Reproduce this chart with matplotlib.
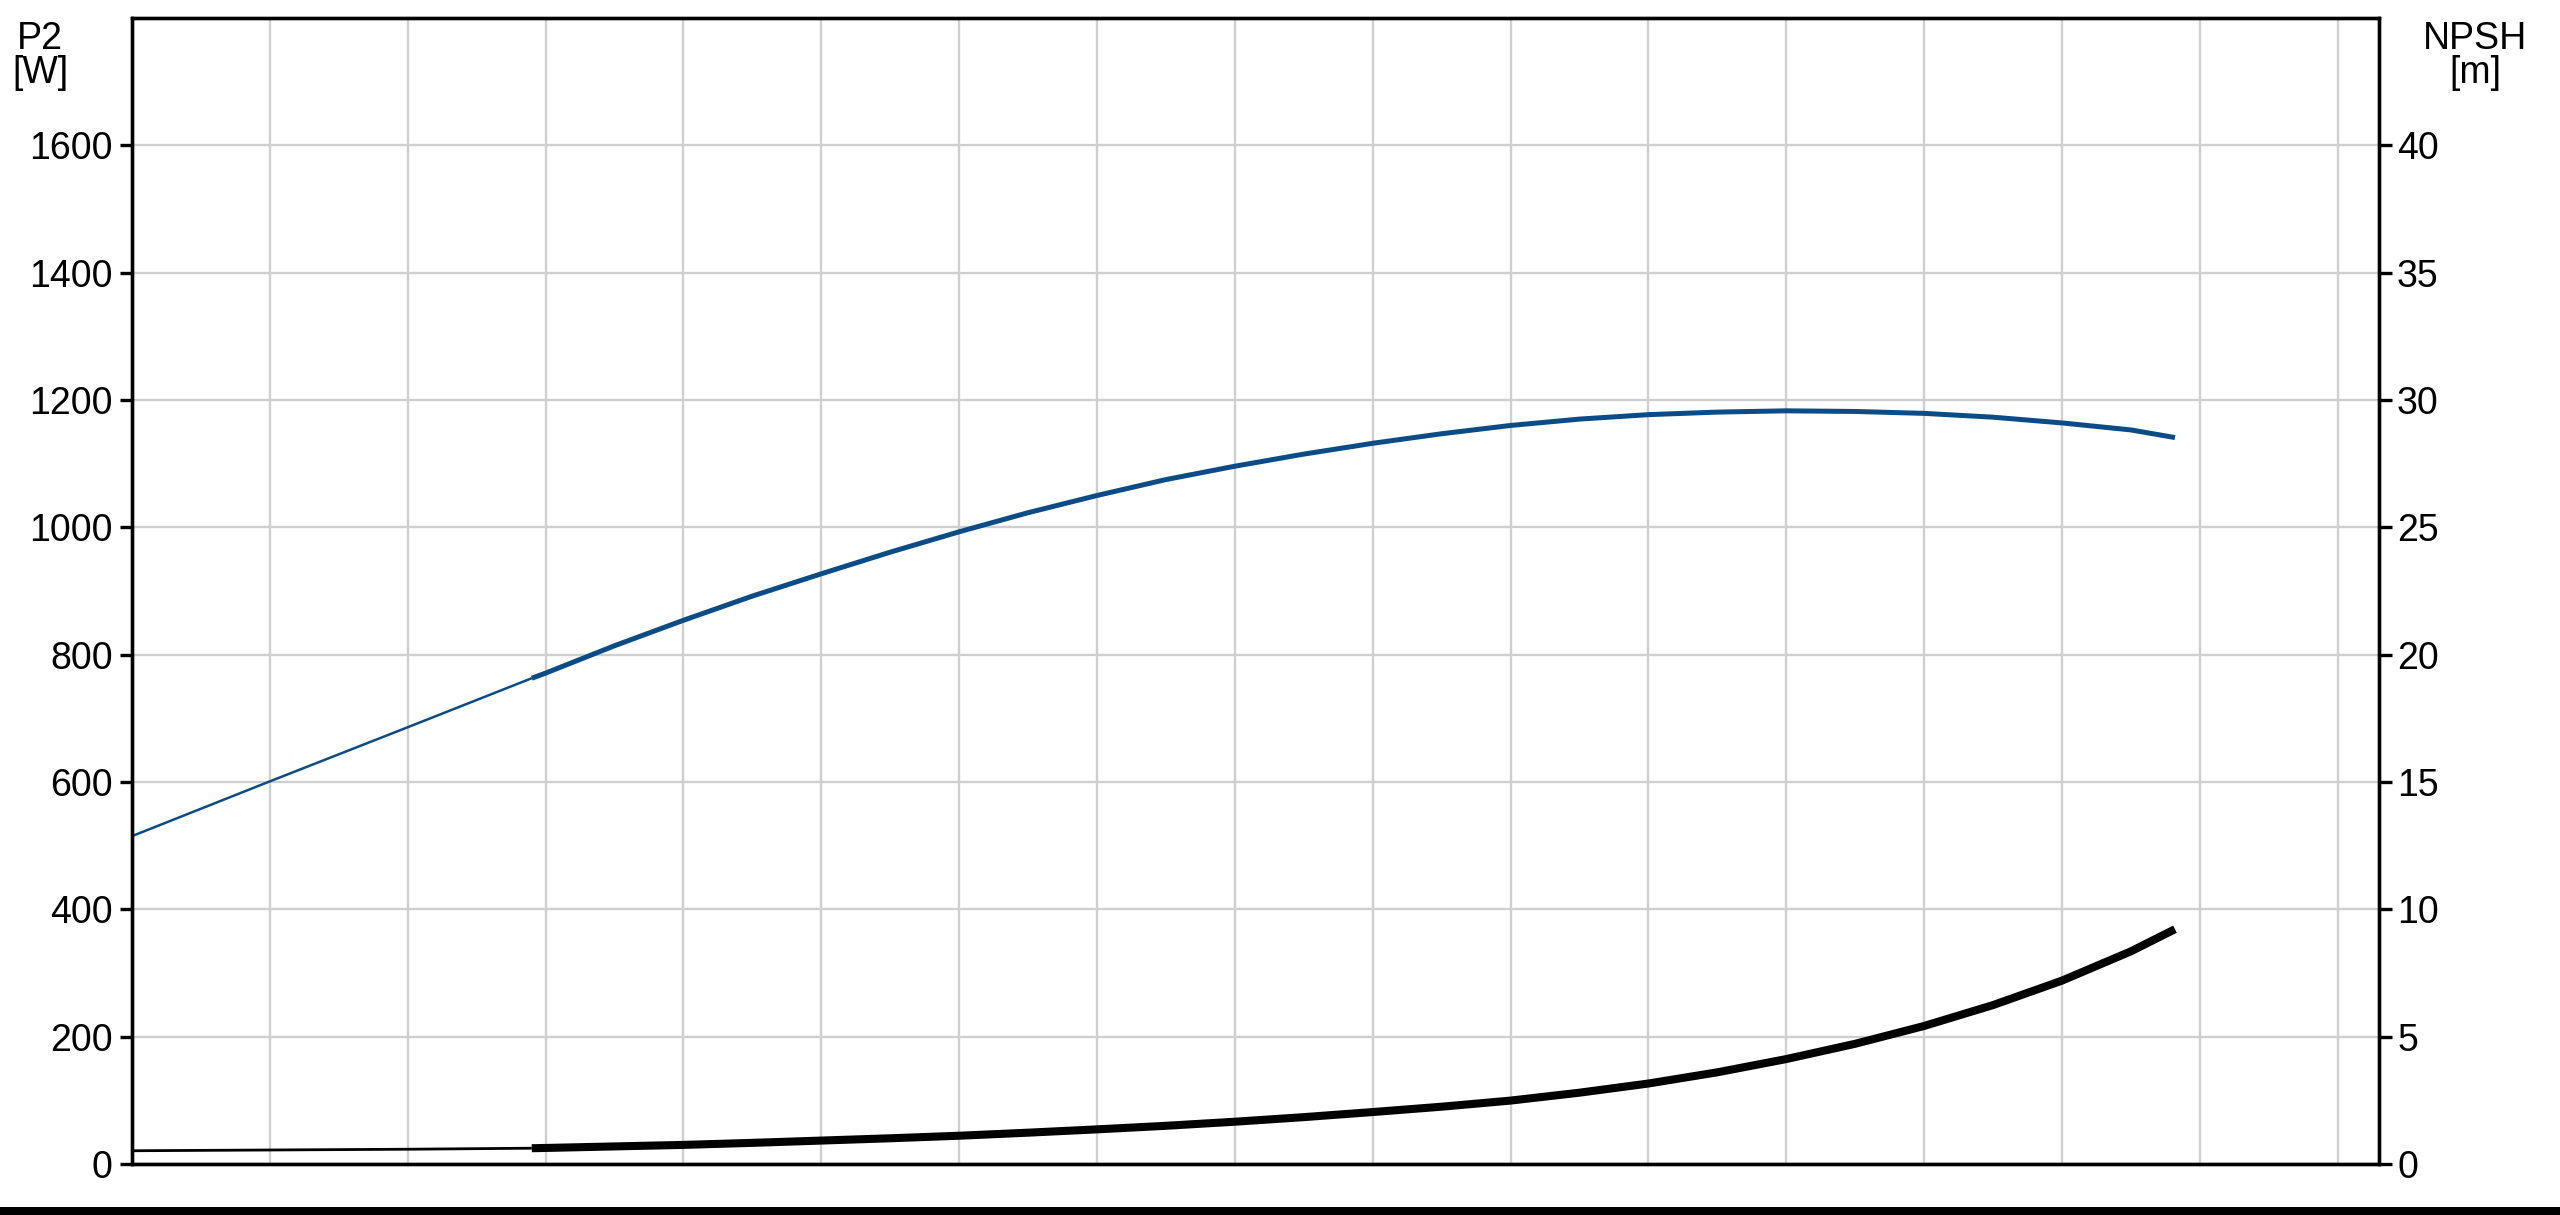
"""
curvas_bomba.py

Curvas P2 [W] y NPSH [m] de una bomba en función del caudal
(eje horizontal sin etiquetas, una línea de rejilla por unidad).

Salida:
    - out.png
"""

import matplotlib.pyplot as plt
from matplotlib.patches import Rectangle


# ----------------------------------------------------------------
# DATOS
# ----------------------------------------------------------------
# P2 [W] - tramo fino (fuera del rango de trabajo)
q_p2_fino = [0, 1, 2, 2.9]
p2_fino = [515, 601, 686, 763]

# P2 [W] - tramo grueso (rango de trabajo)
q_p2 = [2.9, 3, 3.5, 4, 4.5, 5, 5.5, 6, 6.5, 7, 7.5, 8, 8.5, 9, 9.5,
        10, 10.5, 11, 11.5, 12, 12.5, 13, 13.5, 14, 14.5, 14.82]
p2 = [763, 771, 814, 854, 892, 927, 961, 993, 1023, 1050, 1075, 1096, 1115, 1132, 1147,
      1160, 1170, 1177, 1181, 1183, 1182, 1179, 1173, 1164, 1153, 1141]

# NPSH [m] - tramo fino
q_npsh_fino = [0, 1, 2, 2.9]
npsh_fino = [0.52, 0.55, 0.58, 0.62]

# NPSH [m] - tramo grueso
q_npsh = [2.9, 3, 3.5, 4, 4.5, 5, 5.5, 6, 6.5, 7, 7.5, 8, 8.5, 9, 9.5,
          10, 10.5, 11, 11.5, 12, 12.5, 13, 13.5, 14, 14.5, 14.82]
npsh = [0.62, 0.63, 0.69, 0.75, 0.83, 0.92, 1.01, 1.11, 1.23, 1.36, 1.50, 1.66, 1.84, 2.04, 2.25,
        2.49, 2.80, 3.16, 3.60, 4.12, 4.72, 5.42, 6.24, 7.20, 8.35, 9.22]

ticks_p2 = [0, 200, 400, 600, 800, 1000, 1200, 1400, 1600]
ticks_npsh = [0, 5, 10, 15, 20, 25, 30, 35, 40]
ticks_q = list(range(1, 17))

AZUL = '#0b4c86'
GRIS = '#cfcfcf'
TAM = 27


def main():
    plt.rcParams['font.family'] = ['Liberation Sans', 'DejaVu Sans']

    fig = plt.figure(figsize=(25.6, 12.15), dpi=100)
    ax = fig.add_axes([132 / 2560, 51 / 1215, (2379 - 132) / 2560, (1164 - 18) / 1215])
    ax2 = ax.twinx()

    # Rejilla y ejes
    ax.set_xlim(0, 16.3)
    ax.set_ylim(0, 1800)
    ax2.set_ylim(0, 45)
    ax.set_xticks(ticks_q)
    ax.set_yticks(ticks_p2)
    ax2.set_yticks(ticks_npsh)
    ax.grid(True, color=GRIS, linewidth=1.7)
    ax.set_axisbelow(True)
    ax.tick_params(axis='x', length=0, labelbottom=False)
    ax.tick_params(axis='y', direction='out', length=9, width=2.4,
                   labelsize=TAM, pad=5)
    ax2.tick_params(axis='y', direction='out', length=9, width=2.4,
                    labelsize=TAM, pad=4)
    for eje in (ax, ax2):
        for s in eje.spines.values():
            s.set_linewidth(2.4)
            s.set_color('black')
    ax2.patch.set_visible(False)

    # Curvas
    estilo = dict(solid_capstyle='butt', solid_joinstyle='round')
    ax.plot(q_p2_fino, p2_fino, color=AZUL, linewidth=1.8, **estilo)
    ax.plot(q_p2, p2, color=AZUL, linewidth=3.6, **estilo)
    ax2.plot(q_npsh_fino, npsh_fino, color='black', linewidth=2.0, **estilo)
    ax2.plot(q_npsh, npsh, color='black', linewidth=5.8, **estilo)

    # Títulos de los ejes
    fig.text(40 / 2560, 1 - 56 / 1215, 'P2\n[W]', ha='center', va='center',
             fontsize=TAM, linespacing=0.9)
    fig.text(2475 / 2560, 1 - 56 / 1215, 'NPSH\n[m]', ha='center', va='center',
             fontsize=TAM, linespacing=0.9)

    # Franja negra inferior
    fig.add_artist(Rectangle((0, 0), 1, 8 / 1215, transform=fig.transFigure,
                             facecolor='black', edgecolor='none'))

    fig.savefig('out.png', dpi=100, facecolor='white')
    plt.close(fig)


if __name__ == '__main__':
    main()
